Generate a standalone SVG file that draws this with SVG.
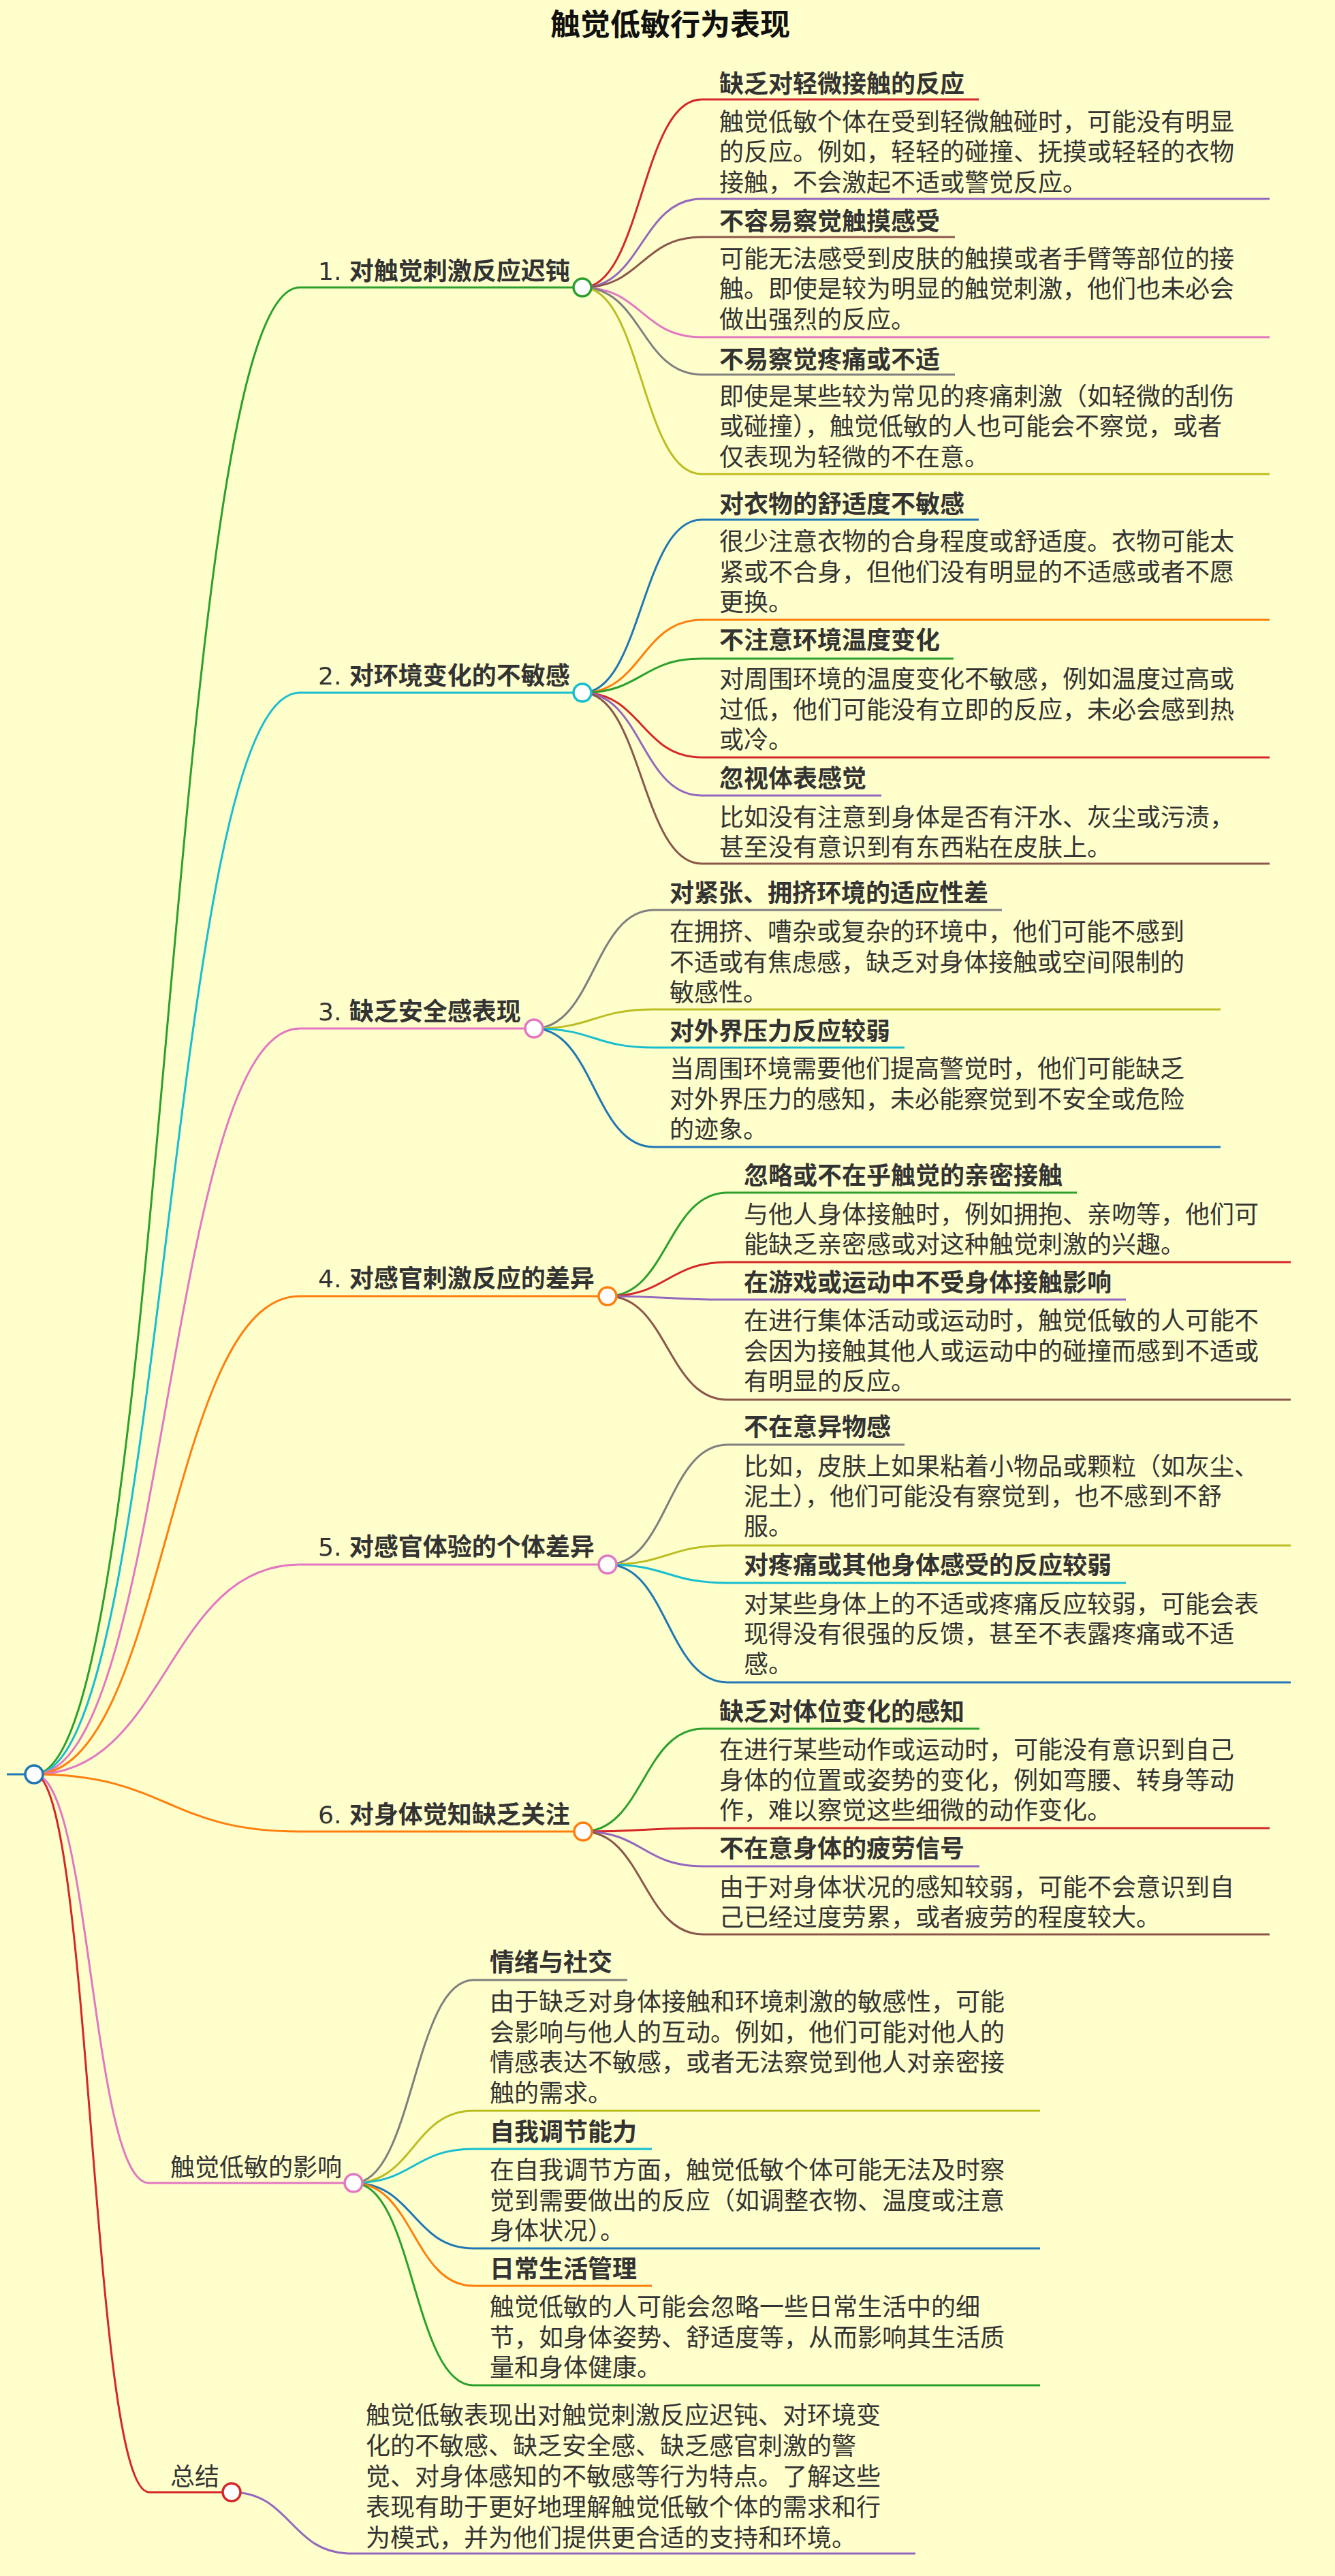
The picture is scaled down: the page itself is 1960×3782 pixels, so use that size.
<svg xmlns="http://www.w3.org/2000/svg" width="1960" height="3782" viewBox="0 0 1960 3782">
<style>
text{font-family:"DejaVu Sans","Noto Sans CJK SC",sans-serif;fill:#333;font-size:36px}
.t{font-size:44px;font-weight:bold;text-anchor:middle;fill:#111}
.h{font-weight:bold}
.b{font-weight:bold}
.e{fill:none;stroke-width:3}
.n{fill:#fff;stroke-width:3.5}
</style>
<rect width="1960" height="3782" fill="#ffffcc"/>
<text class="t" x="984" y="52">触觉低敏行为表现</text>
<g id="connectors">
<path class="e" stroke="#1f77b4" d="M10,2605 H50"/>
<path class="e" stroke="#2ca02c" d="M50,2605 C245,2605 245,422 440,422 H855"/>
<path class="e" stroke="#17becf" d="M50,2605 C245,2605 245,1017 440,1017 H855"/>
<path class="e" stroke="#e377c2" d="M50,2605 C245,2605 245,1510 440,1510 H784"/>
<path class="e" stroke="#ff7f0e" d="M50,2605 C245,2605 245,1903 440,1903 H892"/>
<path class="e" stroke="#e377c2" d="M50,2605 C245,2605 245,2297 440,2297 H892"/>
<path class="e" stroke="#ff7f0e" d="M50,2605 C245,2605 245,2689 440,2689 H856"/>
<path class="e" stroke="#e377c2" d="M50,2605 C134,2605 134,3205 219,3205 H519"/>
<path class="e" stroke="#d62728" d="M50,2605 C134,2605 134,3659 219,3659 H340"/>
<path class="e" stroke="#d62728" d="M855,422 C942,422 942,146 1030,146 H1437"/>
<path class="e" stroke="#9467bd" d="M855,422 C942,422 942,292 1030,292 H1864"/>
<path class="e" stroke="#8c564b" d="M855,422 C942,422 942,348 1030,348 H1402"/>
<path class="e" stroke="#e377c2" d="M855,422 C942,422 942,495 1030,495 H1864"/>
<path class="e" stroke="#7f7f7f" d="M855,422 C942,422 942,550 1030,550 H1402"/>
<path class="e" stroke="#bcbd22" d="M855,422 C942,422 942,696 1030,696 H1864"/>
<path class="e" stroke="#1f77b4" d="M855,1017 C942,1017 942,763 1030,763 H1437"/>
<path class="e" stroke="#ff7f0e" d="M855,1017 C942,1017 942,910 1030,910 H1864"/>
<path class="e" stroke="#2ca02c" d="M855,1017 C942,1017 942,967 1030,967 H1400"/>
<path class="e" stroke="#d62728" d="M855,1017 C942,1017 942,1112 1030,1112 H1864"/>
<path class="e" stroke="#9467bd" d="M855,1017 C942,1017 942,1168 1030,1168 H1294"/>
<path class="e" stroke="#8c564b" d="M855,1017 C942,1017 942,1268 1030,1268 H1864"/>
<path class="e" stroke="#7f7f7f" d="M784,1510 C872,1510 872,1336 960,1336 H1471"/>
<path class="e" stroke="#bcbd22" d="M784,1510 C872,1510 872,1482 960,1482 H1792"/>
<path class="e" stroke="#17becf" d="M784,1510 C872,1510 872,1538 960,1538 H1328"/>
<path class="e" stroke="#1f77b4" d="M784,1510 C872,1510 872,1684 960,1684 H1792"/>
<path class="e" stroke="#2ca02c" d="M892,1903 C980,1903 980,1751 1068,1751 H1581"/>
<path class="e" stroke="#d62728" d="M892,1903 C980,1903 980,1853 1068,1853 H1895"/>
<path class="e" stroke="#9467bd" d="M892,1903 C980,1903 980,1908 1068,1908 H1653"/>
<path class="e" stroke="#8c564b" d="M892,1903 C980,1903 980,2055 1068,2055 H1895"/>
<path class="e" stroke="#7f7f7f" d="M892,2297 C980,2297 980,2121 1068,2121 H1328"/>
<path class="e" stroke="#bcbd22" d="M892,2297 C980,2297 980,2269 1068,2269 H1895"/>
<path class="e" stroke="#17becf" d="M892,2297 C980,2297 980,2324 1068,2324 H1653"/>
<path class="e" stroke="#1f77b4" d="M892,2297 C980,2297 980,2470 1068,2470 H1895"/>
<path class="e" stroke="#2ca02c" d="M856,2689 C944,2689 944,2538 1032,2538 H1438"/>
<path class="e" stroke="#d62728" d="M856,2689 C944,2689 944,2684 1032,2684 H1864"/>
<path class="e" stroke="#9467bd" d="M856,2689 C944,2689 944,2740 1032,2740 H1438"/>
<path class="e" stroke="#8c564b" d="M856,2689 C944,2689 944,2840 1032,2840 H1864"/>
<path class="e" stroke="#7f7f7f" d="M519,3205 C607,3205 607,2907 695,2907 H921"/>
<path class="e" stroke="#bcbd22" d="M519,3205 C607,3205 607,3099 695,3099 H1527"/>
<path class="e" stroke="#17becf" d="M519,3205 C607,3205 607,3155 695,3155 H957"/>
<path class="e" stroke="#1f77b4" d="M519,3205 C607,3205 607,3301 695,3301 H1527"/>
<path class="e" stroke="#ff7f0e" d="M519,3205 C607,3205 607,3356 695,3356 H957"/>
<path class="e" stroke="#2ca02c" d="M519,3205 C607,3205 607,3502 695,3502 H1527"/>
<path class="e" stroke="#9467bd" d="M340,3659 C427,3659 427,3749 515,3749 H1344"/>
</g>
<g id="root"><circle class="n" cx="50" cy="2605" r="13" stroke="#1f77b4"/></g>
<g id="n1">
<circle class="n" cx="855" cy="422" r="13" stroke="#2ca02c"/>
<text x="467" y="411">1. <tspan class="b">对触觉刺激反应迟钝</tspan></text>
<text class="h" x="1056" y="136">缺乏对轻微接触的反应</text>
<text x="1056" y="192">触觉低敏个体在受到轻微触碰时，可能没有明显</text>
<text x="1056" y="236">的反应。例如，轻轻的碰撞、抚摸或轻轻的衣物</text>
<text x="1056" y="281">接触，不会激起不适或警觉反应。</text>
<text class="h" x="1056" y="338">不容易察觉触摸感受</text>
<text x="1056" y="393">可能无法感受到皮肤的触摸或者手臂等部位的接</text>
<text x="1056" y="437">触。即使是较为明显的触觉刺激，他们也未必会</text>
<text x="1056" y="482">做出强烈的反应。</text>
<text class="h" x="1056" y="541">不易察觉疼痛或不适</text>
<text x="1056" y="595">即使是某些较为常见的疼痛刺激（如轻微的刮伤</text>
<text x="1056" y="639">或碰撞），触觉低敏的人也可能会不察觉，或者</text>
<text x="1056" y="684">仅表现为轻微的不在意。</text>
</g>
<g id="n2">
<circle class="n" cx="855" cy="1017" r="13" stroke="#17becf"/>
<text x="467" y="1005">2. <tspan class="b">对环境变化的不敏感</tspan></text>
<text class="h" x="1056" y="753">对衣物的舒适度不敏感</text>
<text x="1056" y="808">很少注意衣物的合身程度或舒适度。衣物可能太</text>
<text x="1056" y="853">紧或不合身，但他们没有明显的不适感或者不愿</text>
<text x="1056" y="897">更换。</text>
<text class="h" x="1056" y="953">不注意环境温度变化</text>
<text x="1056" y="1010">对周围环境的温度变化不敏感，例如温度过高或</text>
<text x="1056" y="1055">过低，他们可能没有立即的反应，未必会感到热</text>
<text x="1056" y="1099">或冷。</text>
<text class="h" x="1056" y="1156">忽视体表感觉</text>
<text x="1056" y="1213">比如没有注意到身体是否有汗水、灰尘或污渍，</text>
<text x="1056" y="1257">甚至没有意识到有东西粘在皮肤上。</text>
</g>
<g id="n3">
<circle class="n" cx="784" cy="1510" r="13" stroke="#e377c2"/>
<text x="467" y="1498">3. <tspan class="b">缺乏安全感表现</tspan></text>
<text class="h" x="983" y="1324">对紧张、拥挤环境的适应性差</text>
<text x="983" y="1381">在拥挤、嘈杂或复杂的环境中，他们可能不感到</text>
<text x="983" y="1426">不适或有焦虑感，缺乏对身体接触或空间限制的</text>
<text x="983" y="1470">敏感性。</text>
<text class="h" x="983" y="1527">对外界压力反应较弱</text>
<text x="983" y="1582">当周围环境需要他们提高警觉时，他们可能缺乏</text>
<text x="983" y="1627">对外界压力的感知，未必能察觉到不安全或危险</text>
<text x="983" y="1671">的迹象。</text>
</g>
<g id="n4">
<circle class="n" cx="892" cy="1903" r="13" stroke="#ff7f0e"/>
<text x="467" y="1890">4. <tspan class="b">对感官刺激反应的差异</tspan></text>
<text class="h" x="1092" y="1739">忽略或不在乎触觉的亲密接触</text>
<text x="1092" y="1796">与他人身体接触时，例如拥抱、亲吻等，他们可</text>
<text x="1092" y="1840">能缺乏亲密感或对这种触觉刺激的兴趣。</text>
<text class="h" x="1092" y="1896">在游戏或运动中不受身体接触影响</text>
<text x="1092" y="1952">在进行集体活动或运动时，触觉低敏的人可能不</text>
<text x="1092" y="1997">会因为接触其他人或运动中的碰撞而感到不适或</text>
<text x="1092" y="2041">有明显的反应。</text>
</g>
<g id="n5">
<circle class="n" cx="892" cy="2297" r="13" stroke="#e377c2"/>
<text x="467" y="2284">5. <tspan class="b">对感官体验的个体差异</tspan></text>
<text class="h" x="1092" y="2108">不在意异物感</text>
<text x="1092" y="2166">比如，皮肤上如果粘着小物品或颗粒（如灰尘、</text>
<text x="1092" y="2210">泥土），他们可能没有察觉到，也不感到不舒</text>
<text x="1092" y="2254">服。</text>
<text class="h" x="1092" y="2311">对疼痛或其他身体感受的反应较弱</text>
<text x="1092" y="2368">对某些身体上的不适或疼痛反应较弱，可能会表</text>
<text x="1092" y="2412">现得没有很强的反馈，甚至不表露疼痛或不适</text>
<text x="1092" y="2456">感。</text>
</g>
<g id="n6">
<circle class="n" cx="856" cy="2689" r="13" stroke="#ff7f0e"/>
<text x="467" y="2677">6. <tspan class="b">对身体觉知缺乏关注</tspan></text>
<text class="h" x="1056" y="2526">缺乏对体位变化的感知</text>
<text x="1056" y="2582">在进行某些动作或运动时，可能没有意识到自己</text>
<text x="1056" y="2627">身体的位置或姿势的变化，例如弯腰、转身等动</text>
<text x="1056" y="2671">作，难以察觉这些细微的动作变化。</text>
<text class="h" x="1056" y="2727">不在意身体的疲劳信号</text>
<text x="1056" y="2784">由于对身体状况的感知较弱，可能不会意识到自</text>
<text x="1056" y="2828">己已经过度劳累，或者疲劳的程度较大。</text>
</g>
<g id="n7">
<circle class="n" cx="519" cy="3205" r="13" stroke="#e377c2"/>
<text x="250" y="3195">触觉低敏的影响</text>
<text class="h" x="719" y="2894">情绪与社交</text>
<text x="719" y="2952">由于缺乏对身体接触和环境刺激的敏感性，可能</text>
<text x="719" y="2997">会影响与他人的互动。例如，他们可能对他人的</text>
<text x="719" y="3041">情感表达不敏感，或者无法察觉到他人对亲密接</text>
<text x="719" y="3086">触的需求。</text>
<text class="h" x="719" y="3143">自我调节能力</text>
<text x="719" y="3199">在自我调节方面，触觉低敏个体可能无法及时察</text>
<text x="719" y="3244">觉到需要做出的反应（如调整衣物、温度或注意</text>
<text x="719" y="3288">身体状况）。</text>
<text class="h" x="719" y="3344">日常生活管理</text>
<text x="719" y="3400">触觉低敏的人可能会忽略一些日常生活中的细</text>
<text x="719" y="3445">节，如身体姿势、舒适度等，从而影响其生活质</text>
<text x="719" y="3489">量和身体健康。</text>
</g>
<g id="n8">
<circle class="n" cx="340" cy="3659" r="13" stroke="#d62728"/>
<text x="250" y="3649">总结</text>
<text x="537" y="3559">触觉低敏表现出对触觉刺激反应迟钝、对环境变</text>
<text x="537" y="3604">化的不敏感、缺乏安全感、缺乏感官刺激的警</text>
<text x="537" y="3649">觉、对身体感知的不敏感等行为特点。了解这些</text>
<text x="537" y="3694">表现有助于更好地理解触觉低敏个体的需求和行</text>
<text x="537" y="3739">为模式，并为他们提供更合适的支持和环境。</text>
</g>
</svg>
